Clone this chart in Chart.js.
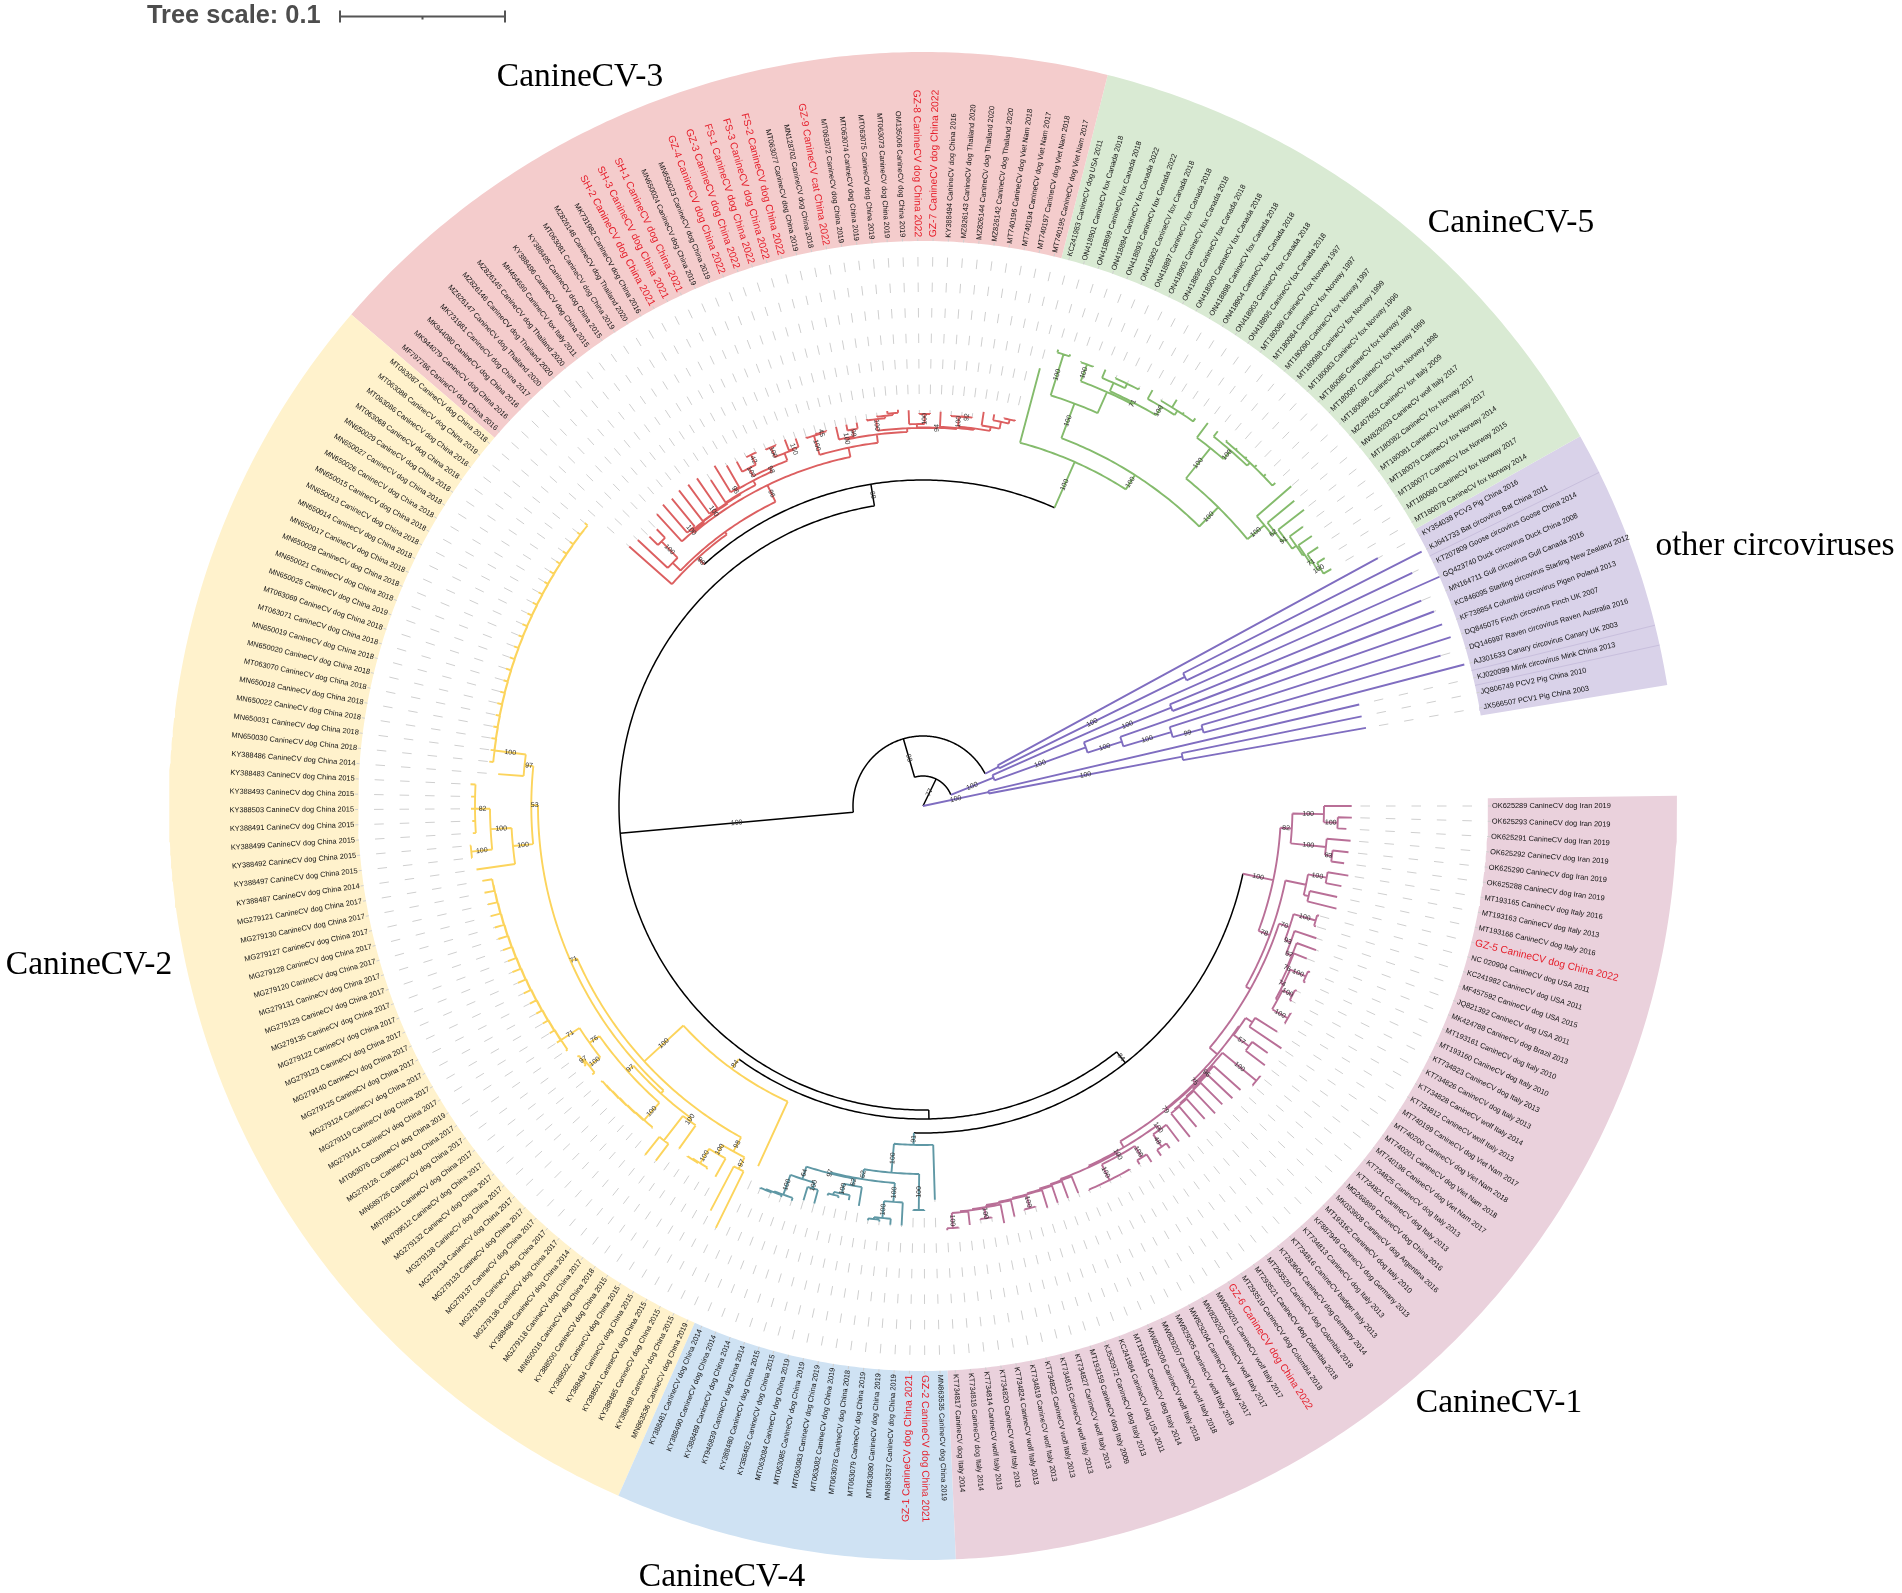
<!DOCTYPE html>
<html><head><meta charset="utf-8">
<style>html,body{margin:0;padding:0;background:#fff}canvas{display:block}</style>
<script src="https://cdn.jsdelivr.net/npm/chart.js@4/dist/chart.umd.min.js"></script>
</head><body><canvas id="c" width="1902" height="1593" style="width:1902px;height:1593px"></canvas>
<script>
// ---------- taxa (clockwise from angle 0) ----------
const taxaCV1=["OK625289 CanineCV dog Iran 2019","OK625293 CanineCV dog Iran 2019","OK625291 CanineCV dog Iran 2019","OK625292 CanineCV dog Iran 2019","OK625290 CanineCV dog Iran 2019","OK625288 CanineCV dog Iran 2019","MT193165 CanineCV dog Italy 2016","MT193163 CanineCV dog Italy 2013","MT193166 CanineCV dog Italy 2016","GZ-5 CanineCV dog China 2022","NC 020904 CanineCV dog USA 2011","KC241982 CanineCV dog USA 2011","MF457592 CanineCV dog USA 2015","JQ821392 CanineCV dog USA 2011","MK424788 CanineCV dog Brazil 2013","MT193161 CanineCV dog Italy 2010","MT193160 CanineCV dog Italy 2010","KT734823 CanineCV dog Italy 2013","KT734826 CanineCV dog Italy 2013","KT734828 CanineCV wolf Italy 2014","KT734812 CanineCV wolf Italy 2013","MT740199 CanineCV dog Viet Nam 2017","MT740200 CanineCV dog Viet Nam 2018","MT740201 CanineCV dog Viet Nam 2018","MT740198 CanineCV dog Viet Nam 2017","KT734825 CanineCV dog Italy 2013","KT734821 CanineCV dog Italy 2013","MG266899 CanineCV dog China 2016","MK033608 CanineCV dog Argentina 2016","MT193162 CanineCV dog Italy 2010","KF887949 CanineCV dog Germany 2013","KT734813 CanineCV dog Italy 2013","KT734816 CanineCV badger Italy 2013","KT283604 CanineCV dog Germany 2014","MT293520 CanineCV dog Colombia 2018","MT293521 CanineCV dog Colombia 2018","MT293519 CanineCV dog Colombia 2018","GZ-6 CanineCV dog China 2022","MW829201 CanineCV wolf Italy 2017","MW829202 CanineCV wolf Italy 2017","MW829204 CanineCV wolf Italy 2017","MW829205 CanineCV wolf Italy 2018","MW829207 CanineCV wolf Italy 2018","MW829206 CanineCV wolf Italy 2018","MT193164 CanineCV dog Italy 2014","KC241984 CanineCV dog USA 2011","KJ530972 CanineCV dog Italy 2013","MT193159 CanineCV dog Italy 2009","KT734827 CanineCV wolf Italy 2013","KT734815 CanineCV wolf Italy 2013","KT734822 CanineCV wolf Italy 2013","KT734819 CanineCV wolf Italy 2013","KT734824 CanineCV wolf Italy 2013","KT734820 CanineCV wolf Italy 2013","KT734814 CanineCV wolf Italy 2013","KT734818 CanineCV dog Italy 2014","KT734817 CanineCV dog Italy 2014"];
const taxaCV4=["MN863535 CanineCV dog China 2019","GZ-2 CanineCV dog China 2021","GZ-1 CanineCV dog China 2021","MN863537 CanineCV dog China 2019","MT063080 CanineCV dog China 2019","MT063079 CanineCV dog China 2019","MT063078 CanineCV dog China 2018","MT063082 CanineCV dog China 2019","MT063083 CanineCV dog China 2019","MT063085 CanineCV dog China 2019","MT063084 CanineCV dog China 2019","KY388482 CanineCV dog China 2015","KY388480 CanineCV dog China 2015","KT946839 CanineCV dog China 2014","KY388489 CanineCV dog China 2014","KY388490 CanineCV dog China 2014","KY388481 CanineCV dog China 2014"];
const taxaCV2=["MN863536 CanineCV dog China 2019","KY388498 CanineCV dog China 2015","KY388485 CanineCV dog China 2015","KY388501 CanineCV dog China 2015","KY388484 CanineCV dog China 2015","KY388502. CanineCV dog China 2015","KY388500 CanineCV dog China 2015","MN650016 CanineCV dog China 2018","MG279118 CanineCV dog China 2017","KY388488 CanineCV dog China 2014","MG279136 CanineCV dog China 2017","MG279139 CanineCV dog China 2017","MG279137 CanineCV dog China 2017","MG279133 CanineCV dog China 2017","MG279134 CanineCV dog China 2017","MG279138 CanineCV dog China 2017","MG279132 CanineCV dog China 2017","MN709512 CanineCV dog China 2017","MN709511 CanineCV dog China 2017","MN689726 CanineCV dog China 2017","MG279126. CanineCV dog China 2017","MT063076 CanineCV dog China 2019","MG279141 CanineCV dog China 2017","MG279119 CanineCV dog China 2017","MG279124 CanineCV dog China 2017","MG279125 CanineCV dog China 2017","MG279140 CanineCV dog China 2017","MG279123 CanineCV dog China 2017","MG279122 CanineCV dog China 2017","MG279135 CanineCV dog China 2017","MG279129 CanineCV dog China 2017","MG279131 CanineCV dog China 2017","MG279120 CanineCV dog China 2017","MG279128 CanineCV dog China 2017","MG279127 CanineCV dog China 2017","MG279130 CanineCV dog China 2017","MG279121 CanineCV dog China 2017","KY388487 CanineCV dog China 2014","KY388497 CanineCV dog China 2015","KY388492 CanineCV dog China 2015","KY388499 CanineCV dog China 2015","KY388491 CanineCV dog China 2015","KY388503 CanineCV dog China 2015","KY388493 CanineCV dog China 2015","KY388483 CanineCV dog China 2015","KY388486 CanineCV dog China 2014","MN650030 CanineCV dog China 2018","MN650031 CanineCV dog China 2018","MN650022 CanineCV dog China 2018","MN650018 CanineCV dog China 2018","MT063070 CanineCV dog China 2018","MN650020 CanineCV dog China 2018","MN650019 CanineCV dog China 2018","MT063071 CanineCV dog China 2018","MT063069 CanineCV dog China 2018","MN650025 CanineCV dog China 2019","MN650021 CanineCV dog China 2018","MN650028 CanineCV dog China 2018","MN650017 CanineCV dog China 2018","MN650014 CanineCV dog China 2018","MN650013 CanineCV dog China 2018","MN650015 CanineCV dog China 2018","MN650026 CanineCV dog China 2018","MN650027 CanineCV dog China 2018","MN650029 CanineCV dog China 2018","MT063068 CanineCV dog China 2018","MT063086 CanineCV dog China 2018","MT063088 CanineCV dog China 2019","MT063087 CanineCV dog China 2018"];
const taxaCV3=["MF797786 CanineCV dog China 2016","MK944079 CanineCV dog China 2016","MK944080 CanineCV dog China 2016","MK731981 CanineCV dog China 2017","MZ826147 CanineCV dog Thailand 2020","MZ826146 CanineCV dog Thailand 2020","MZ826145 CanineCV dog Thailand 2020","MH454599 CanineCV fox Italy 2011","KY388496 CanineCV dog China 2015","KY388495 CanineCV dog China 2015","MT063081 CanineCV dog China 2019","MZ826148 CanineCV dog Thailand 2020","MK731982 CanineCV dog China 2016","SH-2 CanineCV dog China 2021","SH-3 CanineCV dog China 2021","SH-1 CanineCV dog China 2021","MN650024 CanineCV dog China 2019","MN650023 CanineCV dog China 2019","GZ-4 CanineCV dog China 2022","GZ-3 CanineCV dog China 2022","FS-1 CanineCV dog China 2022","FS-3 CanineCV dog China 2022","FS-2 CanineCV dog China 2022","MT063077 CanineCV dog China 2019","MN128702 CanineCV dog China 2018","GZ-9 CanineCV cat China 2022","MT063072 CanineCV dog China 2019","MT063074 CanineCV dog China 2019","MT063075 CanineCV dog China 2019","MT063073 CanineCV dog China 2019","OM135006 CanineCV dog China 2019","GZ-8 CanineCV dog China 2022","GZ-7 CanineCV dog China 2022","KY388494 CanineCV dog China 2016","MZ826143 CanineCV dog Thailand 2020","MZ826144 CanineCV dog Thailand 2020","MZ826142 CanineCV dog Thailand 2020","MT740196 CanineCV dog Viet Nam 2018","MT740194 CanineCV dog Viet Nam 2017","MT740197 CanineCV dog Viet Nam 2018","MT740195 CanineCV dog Viet Nam 2017"];
const taxaCV5=["KC241983 CanineCV dog USA 2011","ON418901 CanineCV fox Canada 2018","ON418899 CanineCV fox Canada 2018","ON418894 CanineCV fox Canada 2022","ON418893 CanineCV fox Canada 2022","ON418902 CanineCV fox Canada 2018","ON418897 CanineCV fox Canada 2018","ON418905 CanineCV fox Canada 2018","ON418896 CanineCV fox Canada 2018","ON418900 CanineCV fox Canada 2018","ON418898 CanineCV fox Canada 2018","ON418904 CanineCV fox Canada 2018","ON418903 CanineCV fox Canada 2018","ON418895 CanineCV fox Canada 2018","MT180089 CanineCV fox Norway 1997","MT180084 CanineCV fox Norway 1997","MT180090 CanineCV fox Norway 1997","MT180088 CanineCV fox Norway 1999","MT180083 CanineCV fox Norway 1996","MT180085 CanineCV fox Norway 1999","MT180087 CanineCV fox Norway 1999","MT180086 CanineCV fox Norway 1998","MZ407653 CanineCV fox Italy 2009","MW829203 CanineCV wolf Italy 2017","MT180082 CanineCV fox Norway 2017","MT180081 CanineCV fox Norway 2017","MT180079 CanineCV fox Norway 2014","MT180077 CanineCV fox Norway 2015","MT180080 CanineCV fox Norway 2017","MT180078 CanineCV fox Norway 2014"];
const taxaOther=["KY354038 PCV3 Pig China 2016","KJ641733 Bat circovirus Bat China 2011","KT207809 Goose circovirus Goose China 2014","GQ423740 Duck circovirus Duck China 2008","MN164711 Gull circovirus Gull Canada 2016","KC846095 Starling circovirus Starling New Zealand 2012","KF738854 Columbid circovirus Pigen Poland 2013","DQ845075 Finch circovirus Finch UK 2007","DQ146997 Raven circovirus Raven Australia 2016","AJ301633 Canary circovirus Canary UK 2003","KJ020099 Mink circovirus Mink China 2013","JQ806749 PCV2 Pig China 2010","JX566507 PCV1 Pig China 2003"];
const cladeTaxa=[taxaCV1,taxaCV4,taxaCV2,taxaCV3,taxaCV5,taxaOther];
const cladeRingColors=["#ead1dc","#cfe2f3","#fff2cc","#f4cccc","#d9ead3","#d9d2e9"];
const cladeBranchColors={cv1:"#b96f97",cv4:"#5f98a5",cv2:"#fcd45c",cv3:"#dc5f60",cv5:"#84bb6c",other:"#7f6dc0"};
const cladeTitles=[["CanineCV-3",580,77],["CanineCV-5",1511,223],["other circoviruses",1775,546],["CanineCV-1",1499,1403],["CanineCV-4",722,1577],["CanineCV-2",89,965]];
const seamLeafGaps=[215.5,223.5,224.5];

// ---------- tree: n(depth, support, ...children); a bare number is a tip depth ----------
function n(d,s,...k){return {d,s,k};}
// lad: each row [depth, support, firstChild] holds the next row as its second child
function lad(rows,last){return rows.reduceRight((acc,r)=>n(r[0],r[1],r[2],acc),last);}
function comb(d,step,s,tips){const t=tips.slice();let cur=n(d+step*(t.length-2),null,t[t.length-2],t[t.length-1]);for(let i=t.length-3;i>=0;i--){cur=n(d+step*i,i===0?s:null,t[i],cur);}return cur;}
function tag(node,c){node.c=c;return node;}

// CanineCV-1
const pinkE=lad([[386,70,n(409,100,411,411)],[392,93,415],[398,87,418.6],[399,76,413]],n(402,74,n(419,100,421,421),n(404,null,n(415,100,417,417),n(422,100,423,423))));
const pinkTail=lad([[399,null,417],[400,null,418],[401,null,419],[402,null,420.6],[403,null,n(416,100,417,417)],[404,null,420.7],[406,null,425],[407,null,n(417,100,418,418)],[408,null,421.6]],n(423,100,424,425));
const pinkMid=n(397.5,null,n(400.6,100,n(414,100,423,418.7),n(418,100,419,419,419,419,419)),pinkTail);
const pinkLadder=n(396,null,n(401,100,422,n(416,48,421.8,423)),pinkMid);
const pinkH3=n(389,79,comb(390,1,96,[426,425.6,422.6,424,421,421.6,425]),pinkLadder);
const pinkH=n(388,75,n(432,100,433,433),pinkH3);
const pinkG=n(386,null,n(394,null,420,432.7),n(405,57,424,429));
const pinkD=n(375,null,pinkE,n(385,null,pinkG,pinkH));
const pinkUpper=n(369.5,82,n(401,100,428.7,n(415,100,429,424)),n(405,100,429,n(412,83,428,425)));
const pinkLower=n(370,78,n(391,null,n(410,100,431,426),n(396,null,424,426)),pinkD);
const treeCV1=n(358,100,pinkUpper,pinkLower);
// CanineCV-4
const tealT4=n(397,100,420,n(414,100,420,n(416,null,418,418)));
const tealT5=n(386,62,405,n(396,100,401,n(399,null,401,401)));
const tealT6=n(392,64,n(398,100,412,412),n(413,100,416,n(414,null,416,n(415,null,416,416))));
const tealT3=n(378,62,tealT4,n(379,97,tealT5,tealT6));
const treeCV4=n(339,91,394,n(368,100,n(404,100,405,405),tealT3));
// CanineCV-2
const tipsCV2a=[421,421,421.5,422,423,423.5,424];
const tipsCV2b=[433,436,437,438,439,440,441,442,443,443,444,445,445,446,446,447,447];
const tipsCV2c=[436,436,437,437,437,438,438,438,439,439,439,439,440,440,440,440,440,441,441,441,441,441,441];
const yellowY9=n(409,76,n(423,100,426,n(425,97,427,427)),comb(431,0.4,71,tipsCV2b));
const yellowZ=n(389,null,n(392,100,420.6,n(423,null,444,446)),n(397,97,comb(420,0.5,100,tipsCV2a),yellowY9));
const yellowY10=n(412,100,451,n(433,100,n(454,100,455,455),n(448,82,451,451,452,452,453)));
const yellowY8=n(391.7,53,yellowY10,n(400.5,97,426,comb(432,0.25,100,tipsCV2c)));
const yellowA=n(394,98,n(407,97,470,457),n(404,100,425,n(421,100,423,n(422,null,423,423))));
const treeCV2=n(325,84,396,n(378,100,yellowA,n(385,71,yellowZ,yellowY8)));
// CanineCV-3
const redB=n(367,null,n(368,96,399,393),n(371,98,n(380,100,391.5,n(391,42,391,390)),n(379,null,n(389.5,100,390.5,390.7),n(380,100,391.6,389))));
const redR8=lad([[358,null,395],[359.5,null,n(361,100,398,397)],[360,null,399],[361,null,n(362,100,398,398)],[362,null,389]],redB);
const redX4=n(385,null,398.7,n(392,null,398,n(396,null,397,397)));
const redX3=n(381,null,n(391,100,392,n(391.5,92,392,392)),redX4);
const redX1=n(378.5,94,n(382,null,396,n(392,100,393,393)),n(379.5,null,394.7,redX3));
const redR7=n(378,null,n(389.6,100,391,n(392,null,393,n(394,null,396.6,397))),redX1);
const redR6=n(374.4,null,n(376,100,389,n(383,99,389,389)),redR7);
const redR5=n(366,null,n(386,100,387,n(387,45,388,388)),redR6);
const treeCV3=n(335,98,392,n(338,null,n(349,null,390,n(372,100,384,384)),n(356.5,96,redR8,redR5)));
// CanineCV-5
const greenG5=n(455,71,n(464,null,473,n(469,null,470,470,470.7)),n(465,100,475,n(470,null,471,479,472,473.7)));
const greenG3=n(430,100,n(473,100,476,475),n(453,null,n(471,100,472,472),greenG5));
const greenLad=lad([[446,62,480.6],[450,91,482.7],[455,null,471.5],[457,null,473.4],[459.5,71,472.4]],n(463,100,472,472));
const greenG7=n(459,100,477.3,n(470,100,476.8,n(474,null,475.6,476,476,477,477,478)));
const greenG6=n(420,100,greenG7,n(442,100,487.7,greenLad));
const treeCV5=n(376,100,453,n(393,100,greenG3,greenG6));
// other circoviruses
const treeOtherA=n(85,null,518,n(292,100,559.8,542));
const otherW1=n(173,100,n(267,100,539,546.7),n(209,100,550,n(259,100,554,n(290,99,539,559.5))));
const treeOtherB=n(76,100,565,otherW1);
const treeOtherC=n(67,100,447.9,n(264,100,447.7,449.8));
[[treeCV1,'cv1'],[treeCV4,'cv4'],[treeCV2,'cv2'],[treeCV3,'cv3'],[treeCV5,'cv5'],[treeOtherA,'other'],[treeOtherB,'other'],[treeOtherC,'other']].forEach(([t,c])=>tag(t,cladeBranchColors[c]));
const treeP=n(313,null,n(327,84,treeCV1,treeCV4),treeCV2);
const treeN2=n(304,100,treeP,n(326,69,treeCV3,treeCV5));
const treeRoot=n(0,null,n(30,77,n(70,98,treeN2,treeOtherA),treeOtherB),treeOtherC);

// ---------- geometry in tree units, 165 units = 0.1 substitutions/site ----------
const ARC_DEG=350, RING_IN=565, RING_OUT=754, LABEL_R=569, DASH_R=568;
const allTaxa=cladeTaxa.flat();
const STEP=ARC_DEG/(allTaxa.length-1);
const P=(r,deg)=>{const a=deg*Math.PI/180;return {x:r*Math.cos(a),y:-r*Math.sin(a)};};
const GAP={x:NaN,y:NaN};
const groups={};const pushG=(c,pts)=>{(groups[c]=groups[c]||[]).push(...pts,GAP);};
function arcPts(r,a,b){const pts=[];const m=Math.max(1,Math.ceil(Math.abs(b-a)/0.5));for(let i=0;i<=m;i++)pts.push(P(r,a+(b-a)*i/m));return pts;}
let leafCounter=0;const tipList=[];const supports=[];
function layout(node,pd,color){
  if(typeof node==='number'){const i=leafCounter++;const th=i*STEP;pushG(color,[P(pd,th),P(node,th)]);tipList.push({i,th,r:node});return th;}
  const c=node.c||color;
  const ths=node.k.map(k=>layout(k,node.d,c));
  const a=ths[0],b=ths[ths.length-1],th=(a+b)/2;
  if(b>a)pushG(c,arcPts(node.d,a,b));
  if(node.d>pd)pushG(c,[P(pd,th),P(node.d,th)]);
  if(node.s!=null)supports.push({r:(pd+node.d)/2,th,s:node.s});
  return th;
}
layout(treeRoot,0,"#000000");

const datasets=[];
const base={type:'scatter',showLine:true,pointRadius:0,pointHoverRadius:0,tension:0,spanGaps:false,fill:false};
let off=0;
cladeTaxa.forEach((t,i)=>{
  const a=(off-0.5)*STEP,b=(off+t.length-0.5)*STEP;off+=t.length;
  datasets.push({...base,label:'ring'+i,order:30,data:[...arcPts(RING_OUT,a,b),...arcPts(RING_IN,b,a)],fill:'shape',borderWidth:0,borderColor:'transparent',backgroundColor:cladeRingColors[i]});
});
const seamData=[];seamLeafGaps.forEach(g=>{seamData.push(P(RING_IN,g*STEP),P(RING_OUT,g*STEP),GAP);});
datasets.push({...base,label:'seams',order:29,data:seamData,borderWidth:1,borderColor:'#c8bfdd'});
const dashData=[];tipList.forEach(t=>{if(t.r<DASH_R)dashData.push(P(DASH_R,t.th),P(t.r,t.th),GAP);});
datasets.push({...base,label:'guides',order:20,data:dashData,borderWidth:1,borderColor:'#cfcfcf',borderDash:[9.5,16],borderDashOffset:6.5});
Object.keys(groups).forEach(c=>{
  const black=c==="#000000";
  datasets.push({...base,label:'branches',order:black?5:4,data:groups[c],borderWidth:black?1.5:1.9,borderColor:c,borderDash:[99999,1]});
});
// scale bar: 165 units long
const BAR_X=-583,BAR_Y=789.5,BAR_LEN=165;
datasets.push({...base,label:'scale',order:1,borderWidth:2,borderColor:'#555555',borderDash:[99999,1],data:[
 {x:BAR_X,y:BAR_Y},{x:BAR_X+BAR_LEN,y:BAR_Y},GAP,{x:BAR_X,y:BAR_Y+6},{x:BAR_X,y:BAR_Y-6},GAP,{x:BAR_X+BAR_LEN,y:BAR_Y+6},{x:BAR_X+BAR_LEN,y:BAR_Y-6},GAP,{x:BAR_X+BAR_LEN/2,y:BAR_Y},{x:BAR_X+BAR_LEN/2,y:BAR_Y-3}]});

const textPlugin={id:'text',afterDatasetsDraw(chart){
  const ctx=chart.ctx,sx=chart.scales.x,sy=chart.scales.y;
  const px=p=>[sx.getPixelForValue(p.x),sy.getPixelForValue(p.y)];
  const radial=(p,th,draw)=>{ctx.save();const [x,y]=px(p);ctx.translate(x,y);const left=th>90&&th<270;ctx.rotate((left?th-180:th)*Math.PI/180);draw(left);ctx.restore();};
  ctx.fillStyle='#333';ctx.font='7px "Liberation Sans"';ctx.textBaseline='middle';ctx.textAlign='center';
  supports.forEach(s=>radial(P(s.r,s.th),s.th,()=>ctx.fillText(String(s.s),0,0)));
  allTaxa.forEach((t,i)=>{
    const th=i*STEP,red=/^(GZ|SH|FS)-/.test(t);
    ctx.fillStyle=red?'#e5202c':'#111111';
    ctx.font=(red?'10.2':'7.4')+'px "Liberation Sans"';
    radial(P(LABEL_R,th),th,left=>{ctx.textAlign=left?'right':'left';ctx.textBaseline='middle';ctx.fillText(t,0,0);});
  });
  ctx.fillStyle='#000';ctx.font='33.5px "Liberation Serif"';ctx.textAlign='center';ctx.textBaseline='middle';
  cladeTitles.forEach(([t,x,y])=>ctx.fillText(t,x,y));
  ctx.fillStyle='#4d4d4d';ctx.font='bold 25.4px "Liberation Sans"';ctx.textAlign='left';ctx.textBaseline='middle';
  ctx.fillText('Tree scale: 0.1',147,16);
}};

new Chart(document.getElementById('c'),{type:'scatter',data:{datasets},plugins:[textPlugin],options:{
  responsive:false,animation:false,devicePixelRatio:1,events:[],layout:{padding:0},
  plugins:{legend:{display:false},tooltip:{enabled:false},title:{display:false}},
  scales:{x:{type:'linear',display:false,min:-923,max:979},y:{type:'linear',display:false,min:-787,max:806}}
}});
</script></body></html>
